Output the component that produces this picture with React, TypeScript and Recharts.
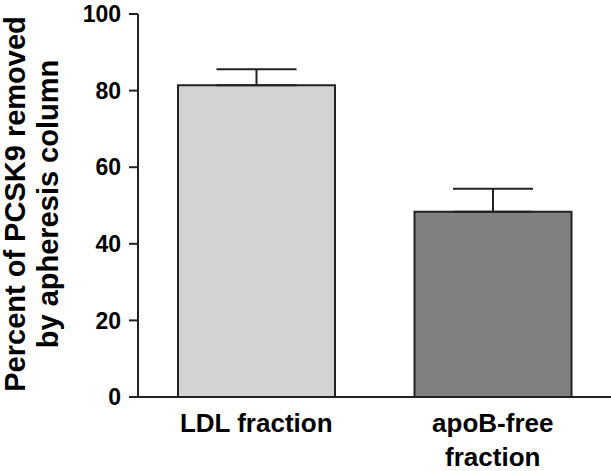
import { BarChart, Bar, XAxis, YAxis, ErrorBar, Cell } from 'recharts';

const CATEGORIES = ['LDL fraction', 'apoB-free\nfraction'];
const PERCENT_REMOVED = [81.4, 48.4];
const ERROR_UP = [4.2, 6.0];
const BAR_FILLS = ['#d3d3d3', '#808080'];
const Y_TICKS = [0, 20, 40, 60, 80, 100];
const Y_TITLE = ['Percent of PCSK9 removed', 'by apheresis column'];

const FONT = '"Liberation Sans", Arial, Helvetica, sans-serif';
const INK = '#222222';

const data = CATEGORIES.map((name, i) => ({
  name,
  value: PERCENT_REMOVED[i],
  err: [0, ERROR_UP[i]],
}));

function CategoryTick(props: any) {
  const { x, y, payload } = props;
  const lines = String(payload.value).split('\n');
  return (
    <g>
      {lines.map((line, i) => (
        <text
          key={i}
          x={x}
          y={y + 35 + i * 34}
          textAnchor="middle"
          fontFamily={FONT}
          fontWeight="bold"
          fontSize={26}
          fill="#000"
        >
          {line}
        </text>
      ))}
    </g>
  );
}

// two-line rotated title left of the y axis
function YTitle() {
  const cy = 204;
  return (
    <g>
      {Y_TITLE.map((line, i) => {
        const bx = 25 + i * 33;
        return (
          <text
            key={i}
            x={bx}
            y={cy}
            transform={`rotate(-90, ${bx}, ${cy})`}
            textAnchor="middle"
            fontFamily={FONT}
            fontWeight="bold"
            fontSize={29}
            fill="#000"
          >
            {line}
          </text>
        );
      })}
    </g>
  );
}

export default function App() {
  return (
    <div style={{ position: 'fixed', left: 0, top: 0, width: 611, height: 471, background: '#fff' }}>
      <BarChart
        width={611}
        height={471}
        data={data}
        margin={{ top: 14, right: 0, bottom: 0, left: 0 }}
        barCategoryGap={0}
      >
        <XAxis
          dataKey="name"
          height={74}
          axisLine={{ stroke: INK, strokeWidth: 2 }}
          tickLine={false}
          tickSize={0}
          tickMargin={0}
          tick={<CategoryTick />}
          interval={0}
        />
        <YAxis
          width={138}
          domain={[0, 100]}
          ticks={Y_TICKS}
          interval={0}
          axisLine={{ stroke: INK, strokeWidth: 2 }}
          tickLine={{ stroke: INK, strokeWidth: 2 }}
          tickSize={9}
          tickMargin={8}
          tick={{ fill: '#000', fontFamily: FONT, fontWeight: 'bold', fontSize: 23 }}
          label={{ content: () => <YTitle /> }}
        />
        <Bar dataKey="value" barSize={157} stroke={INK} strokeWidth={2} isAnimationActive={false}>
          {data.map((d, i) => (
            <Cell key={d.name} fill={BAR_FILLS[i]} />
          ))}
          <ErrorBar dataKey="err" width={40} stroke={INK} strokeWidth={2} direction="y" isAnimationActive={false} />
        </Bar>
      </BarChart>
    </div>
  );
}
